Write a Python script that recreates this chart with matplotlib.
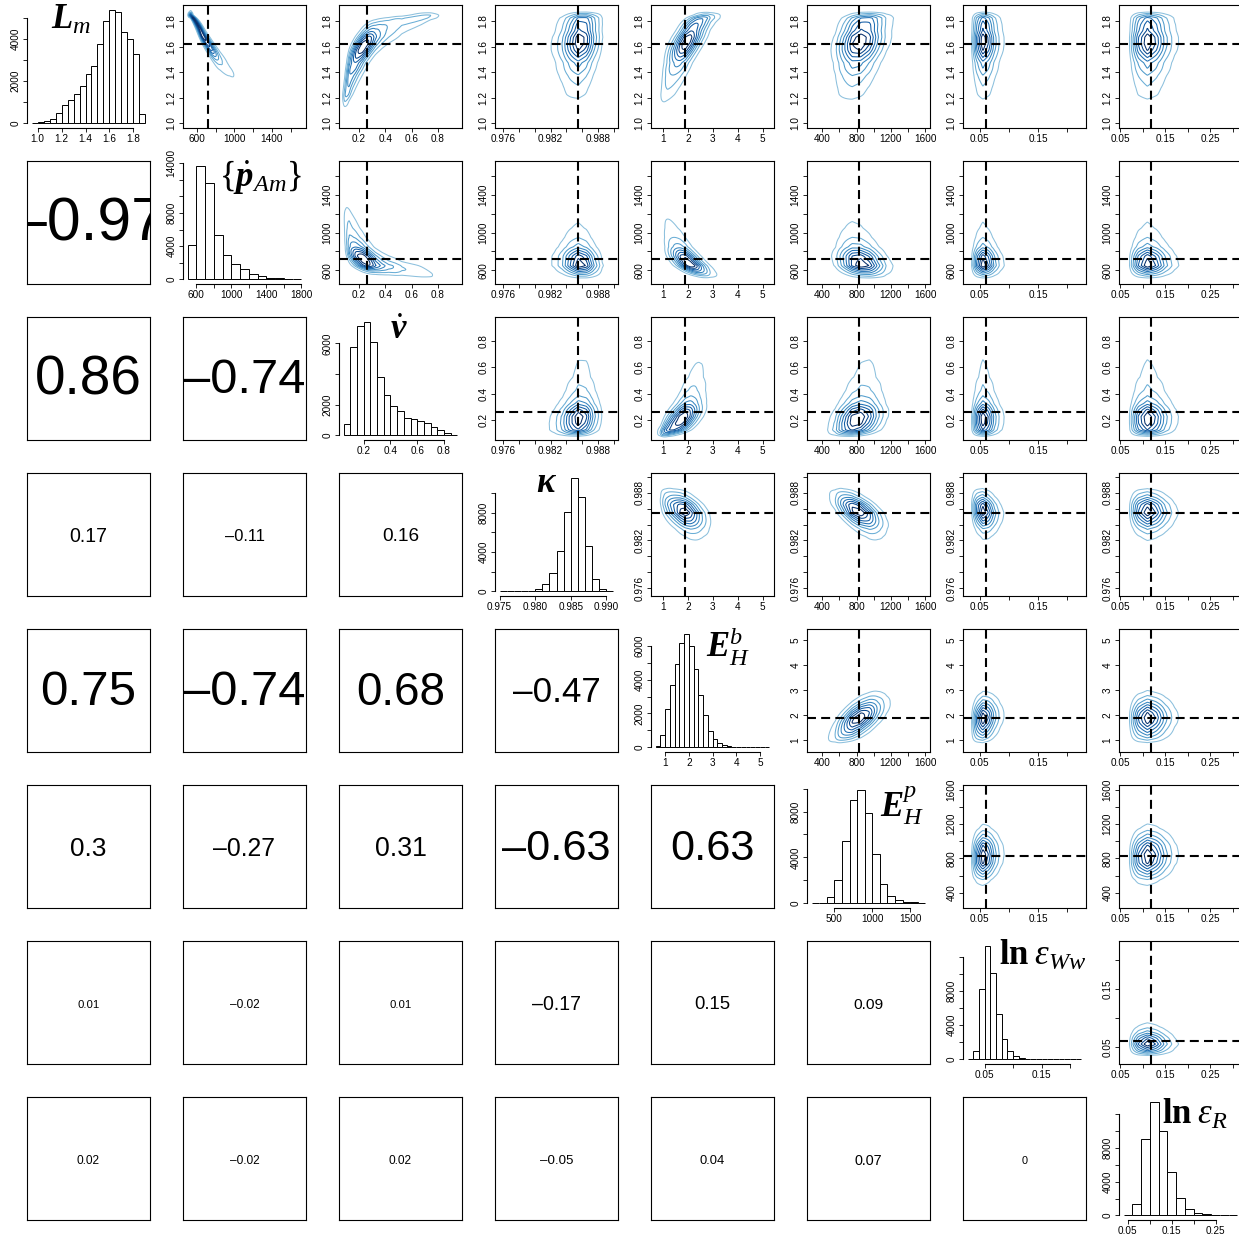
import math
import numpy as np
import matplotlib
matplotlib.use("Agg")
import matplotlib.pyplot as plt
from matplotlib.ticker import FixedLocator, FixedFormatter

plt.rcParams['font.family'] = ['Liberation Sans', 'DejaVu Sans']
plt.rcParams['mathtext.fontset'] = 'custom'
plt.rcParams['mathtext.rm'] = 'Liberation Serif'
plt.rcParams['mathtext.it'] = 'Liberation Serif:italic'
plt.rcParams['mathtext.bf'] = 'Liberation Serif:bold:italic'
plt.rcParams['mathtext.sf'] = 'Liberation Serif:bold'

# parameter names (diagonal labels)
names = [r'$\mathbf{L}_m$', r'$\{\dot{\mathbf{p}}_{Am}\}$', r'$\dot{\mathbf{v}}$',
         r'$\mathbf{\kappa}$', r'$\mathbf{E}_H^b$', r'$\mathbf{E}_H^p$',
         r'$\mathsf{ln}\;\varepsilon_{Ww}$', r'$\mathsf{ln}\;\varepsilon_R$']

# reference values (dashed cross-hairs)
ref_values = [1.62, 725, 0.257, 0.9855, 1.9, 830, 0.06, 0.118]

# axis ranges of the contour panels
ranges = [(0.962, 1.928), (454, 1763), (0.047, 0.984), (0.9750, 0.9905),
          (0.52, 5.45), (222, 1658), (0.021, 0.232), (0.047, 0.32)]

# posterior histograms: first break, bin width, counts
hist_start = [0.95, 500, 0.05, 0.975, 0.6, 200, 0.02, 0.04]
hist_width = [0.05, 100, 0.05, 0.001, 0.2, 100, 0.01, 0.02]
Lm_counts = [30, 63, 110, 189, 472, 882, 1087, 1400, 1764, 2330, 2724, 3764, 4850,
             5386, 5260, 4330, 4000, 3290, 457]
pAm_counts = [4200, 13720, 11600, 5400, 3000, 1880, 1280, 680, 360, 200, 120, 80, 40]
vdot_counts = [760, 5730, 7140, 7420, 6080, 3810, 2620, 1900, 1620, 1150, 1040, 930,
               780, 560, 350, 170, 40]
kappa_counts = [15, 20, 30, 50, 90, 270, 776, 1823, 4118, 8101, 11544, 9553, 4624,
                1283, 270, 60]
EHb_counts = [60, 730, 2290, 3650, 4920, 6180, 6710, 6000, 4610, 3080, 1900, 940, 510,
              255, 150, 80, 45, 25, 15, 10, 8, 6, 5, 4]
EHp_counts = [15, 60, 550, 2000, 5450, 9040, 9910, 7910, 4290, 1680, 640, 290, 150, 90, 40]
eWw_counts = [20, 980, 8200, 13300, 10070, 5270, 2340, 1010, 430, 200, 100, 60, 40, 30,
              20, 15, 10, 8, 6, 5]
eR_counts = [30, 1380, 9060, 13450, 10000, 5100, 2080, 780, 310, 120, 50, 20, 8]
hist_counts = [Lm_counts, pAm_counts, vdot_counts, kappa_counts, EHb_counts,
               EHp_counts, eWw_counts, eR_counts]

# correlations (lower triangle, by row)
corr_rows = [
    [],
    [-0.97],
    [0.86, -0.74],
    [0.17, -0.11, 0.16],
    [0.75, -0.74, 0.68, -0.47],
    [0.30, -0.27, 0.31, -0.63, 0.63],
    [0.01, -0.02, 0.01, -0.17, 0.15, 0.09],
    [0.02, -0.02, 0.02, -0.05, 0.04, 0.07, 0.0],
]

# ticks of the contour panels ('' = tick without label)
axis_ticks = [
    [1.0, 1.2, 1.4, 1.6, 1.8],
    [600, 800, 1000, 1200, 1400, 1600],
    [0.2, 0.4, 0.6, 0.8],
    [0.976, 0.978, 0.980, 0.982, 0.984, 0.986, 0.988, 0.990],
    [1, 2, 3, 4, 5],
    [400, 600, 800, 1000, 1200, 1400, 1600],
    [0.05, 0.10, 0.15, 0.20],
    [0.05, 0.10, 0.15, 0.20, 0.25, 0.30],
]
axis_labels = [
    ['1.0', '1.2', '1.4', '1.6', '1.8'],
    ['600', '', '1000', '', '1400', ''],
    ['0.2', '0.4', '0.6', '0.8'],
    ['0.976', '', '', '0.982', '', '', '0.988', ''],
    ['1', '2', '3', '4', '5'],
    ['400', '', '800', '', '1200', '', '1600'],
    ['0.05', '', '0.15', ''],
    ['0.05', '', '0.15', '', '0.25', ''],
]

# ticks of the histogram panels
hist_xticks = [
    [1.0, 1.2, 1.4, 1.6, 1.8],
    [600, 800, 1000, 1200, 1400, 1600, 1800],
    [0.2, 0.4, 0.6, 0.8],
    [0.975, 0.980, 0.985, 0.990],
    [1, 2, 3, 4, 5],
    [500, 1000, 1500],
    [0.05, 0.10, 0.15, 0.20],
    [0.05, 0.10, 0.15, 0.20, 0.25],
]
hist_xlabels = [
    ['1.0', '1.2', '1.4', '1.6', '1.8'],
    ['600', '', '1000', '', '1400', '', '1800'],
    ['0.2', '0.4', '0.6', '0.8'],
    ['0.975', '0.980', '0.985', '0.990'],
    ['1', '2', '3', '4', '5'],
    ['500', '1000', '1500'],
    ['0.05', '', '0.15', ''],
    ['0.05', '', '0.15', '', '0.25'],
]
hist_yticks = [
    [0, 1000, 2000, 3000, 4000, 5000],
    [0, 2000, 4000, 6000, 8000, 10000, 12000, 14000],
    [0, 2000, 4000, 6000],
    [0, 2000, 4000, 6000, 8000, 10000],
    [0, 1000, 2000, 3000, 4000, 5000, 6000],
    [0, 2000, 4000, 6000, 8000, 10000],
    [0, 2000, 4000, 6000, 8000, 10000, 12000],
    [0, 2000, 4000, 6000, 8000, 10000, 12000],
]
hist_ylabels = [
    ['0', '', '2000', '', '4000', ''],
    ['0', '', '4000', '', '8000', '', '', '14000'],
    ['0', '2000', '', '6000'],
    ['0', '', '4000', '', '8000', ''],
    ['0', '', '2000', '', '4000', '', '6000'],
    ['0', '', '4000', '', '8000', ''],
    ['0', '', '4000', '', '8000', '', ''],
    ['0', '', '4000', '', '8000', '', ''],
]

# where the parameter name sits in its histogram panel (axes fraction)
name_pos = [(0.36, 0.88), (0.63, 0.87), (0.49, 0.90), (0.42, 0.92),
            (0.63, 0.86), (0.77, 0.83), (0.65, 0.89), (0.62, 0.86)]

n = len(names)
W, H = 1239, 1240
fig = plt.figure(figsize=(W / 100, H / 100), dpi=100)

# inverse normal cdf from a table
zz = np.linspace(-6, 6, 3001)
Phi = 0.5 * (1 + np.vectorize(math.erf)(zz / math.sqrt(2)))


def ppf(u):
    return np.interp(np.clip(u, 1e-9, 1 - 1e-9), Phi, zz)


def marginal(k, grid):
    counts = np.asarray(hist_counts[k], float)
    s, w = hist_start[k], hist_width[k]
    centers = s + w * (np.arange(len(counts)) + 0.5)
    xs = np.concatenate([[s], centers, [s + w * len(counts)]])
    ys = np.concatenate([[0], counts, [0]])
    d = np.interp(grid, xs, ys, left=0, right=0)
    dx = grid[1] - grid[0]
    d = d / (d.sum() * dx)
    return d, np.cumsum(d) * dx


def corr(i, j):
    return corr_rows[max(i, j)][min(i, j)]


def style_ticks(ax):
    ax.tick_params(direction='out', length=3, width=0.6, labelsize=7.2, pad=1.5,
                   colors='black')
    for sp in ax.spines.values():
        sp.set_linewidth(0.8)


def set_axis(axis, ticks, labels):
    axis.set_major_locator(FixedLocator(ticks))
    axis.set_major_formatter(FixedFormatter(labels))


def rotate_y(ax):
    for lab in ax.get_yticklabels():
        lab.set_rotation(90)
        lab.set_va('center')


grids = [np.linspace(r[0], r[1], 180) for r in ranges]
margs = [marginal(k, grids[k]) for k in range(n)]
# normal scores, clipped so the copula stays bounded in the far tails
zgrid = [np.clip(ppf(m[1]), -2.2, 2.2) for m in margs]

for i in range(n):
    for j in range(n):
        left = 27 + 156 * j
        top = 5 + 156 * i
        ax = fig.add_axes([left / W, 1 - (top + 123) / H, 123 / W, 123 / H])
        if i == j:
            counts = hist_counts[i]
            s, w = hist_start[i], hist_width[i]
            edges = s + w * np.arange(len(counts))
            ax.bar(edges, counts, width=w, align='edge', color='white',
                   edgecolor='black', linewidth=0.7)
            lo, hi = s, s + w * len(counts)
            pad = 0.04 * (hi - lo)
            ax.set_xlim(lo - pad, hi + pad)
            top_c = max(counts)
            ax.set_ylim(-0.04 * top_c, 1.04 * top_c)
            set_axis(ax.xaxis, hist_xticks[i], hist_xlabels[i])
            set_axis(ax.yaxis, hist_yticks[i], hist_ylabels[i])
            style_ticks(ax)
            ax.spines['top'].set_visible(False)
            ax.spines['right'].set_visible(False)
            ax.spines['bottom'].set_bounds(hist_xticks[i][0], hist_xticks[i][-1])
            ax.spines['left'].set_bounds(0, hist_yticks[i][-1])
            rotate_y(ax)
            ax.text(name_pos[i][0], name_pos[i][1], names[i], transform=ax.transAxes,
                    ha='center', va='center', fontsize=25)
        elif i > j:
            r = corr(i, j)
            txt = ('%g' % r).replace('-', '\u2013')
            ax.set_xticks([])
            ax.set_yticks([])
            for sp in ax.spines.values():
                sp.set_linewidth(0.8)
            ax.text(0.5, 0.48, txt, transform=ax.transAxes, ha='center', va='center',
                    fontsize=7.8 + 37 * abs(r), clip_on=True)
        else:
            gx, gy = grids[j], grids[i]
            fx, fy = margs[j][0], margs[i][0]
            a = zgrid[j][None, :]
            b = zgrid[i][:, None]
            rho = corr(i, j)
            dens = np.exp(-(rho ** 2 * (a ** 2 + b ** 2) - 2 * rho * a * b)
                          / (2 * (1 - rho ** 2))) / math.sqrt(1 - rho ** 2)
            Z = dens * fx[None, :] * fy[:, None]
            levels = Z.max() * np.arange(1, 9) / 9.0
            colors = plt.cm.Blues(np.linspace(0.42, 1.0, len(levels)))
            ax.contour(gx, gy, Z, levels=levels, colors=colors, linewidths=0.75)
            ax.axvline(ref_values[j], color='black', lw=1.5, linestyle=(0, (4.3, 2.5)))
            ax.axhline(ref_values[i], color='black', lw=1.5, linestyle=(0, (4.3, 2.5)))
            ax.set_xlim(*ranges[j])
            ax.set_ylim(*ranges[i])
            set_axis(ax.xaxis, axis_ticks[j], axis_labels[j])
            set_axis(ax.yaxis, axis_ticks[i], axis_labels[i])
            style_ticks(ax)
            rotate_y(ax)

fig.savefig('out.png', dpi=100)
